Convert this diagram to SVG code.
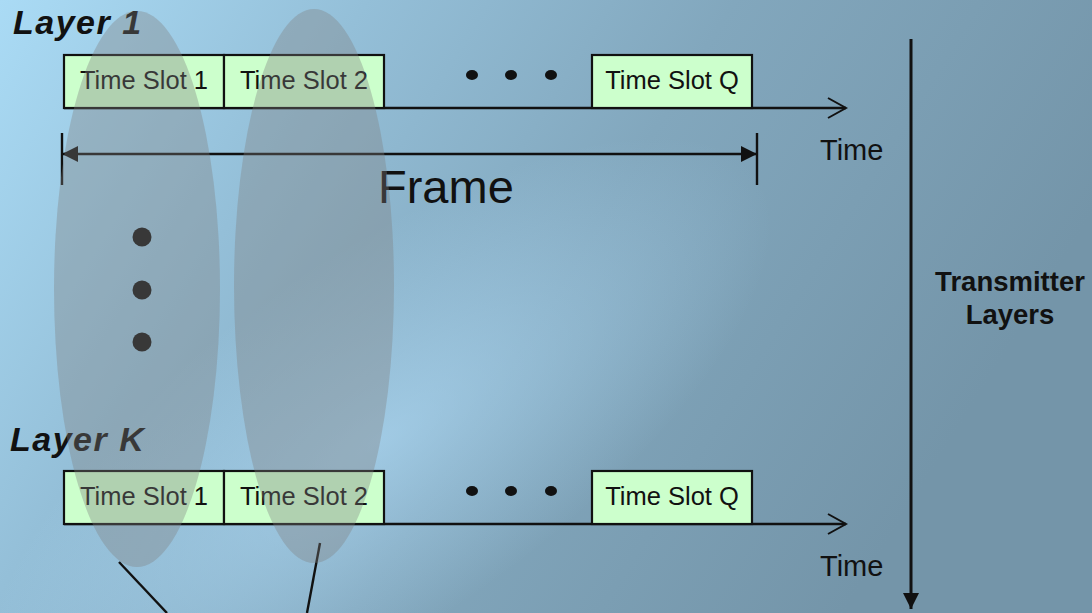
<svg xmlns="http://www.w3.org/2000/svg" width="1092" height="613" viewBox="0 0 1092 613">
<defs>
<linearGradient id="bg" x1="0" y1="0" x2="1" y2="0.35">
<stop offset="0" stop-color="#aadbf5"/>
<stop offset="0.3" stop-color="#94bfd8"/>
<stop offset="0.6" stop-color="#82a7bd"/>
<stop offset="1" stop-color="#7495a9"/>
</linearGradient>
<radialGradient id="glow" cx="380" cy="440" r="330" gradientUnits="userSpaceOnUse" gradientTransform="translate(380 440) rotate(-35) scale(1.4 0.55) translate(-380 -440)">
<stop offset="0" stop-color="#b2defa" stop-opacity="0.6"/>
<stop offset="1" stop-color="#b2defa" stop-opacity="0"/>
</radialGradient>
<marker id="fillArrow" viewBox="0 0 16 16" refX="16" refY="8" markerWidth="16" markerHeight="16" markerUnits="userSpaceOnUse" orient="auto-start-reverse">
<path d="M0,0 L16,8 L0,16 Z" fill="#111"/>
</marker>
<marker id="openArrow" viewBox="0 0 22 24" refX="20" refY="12" markerWidth="22" markerHeight="24" markerUnits="userSpaceOnUse" orient="auto">
<path d="M2,2 L20,12 L2,22" fill="none" stroke="#111" stroke-width="2"/>
</marker>
</defs>
<style>
.slot{fill:#ccffcc;stroke:#111;stroke-width:2.2}
.slotText{font-family:"Liberation Sans",Arial,sans-serif;font-size:25.5px;fill:#111;text-anchor:middle}
.layer{font-family:"Liberation Sans",Arial,sans-serif;font-size:34px;font-weight:bold;font-style:italic;fill:#111;letter-spacing:1.5px}
.lbl{font-family:"Liberation Sans",Arial,sans-serif;font-size:29px;fill:#111}
.ln{stroke:#111;stroke-width:2.4;fill:none}
.dot{fill:#111}
.ell{fill:#808080;fill-opacity:0.36}
</style>
<rect width="1092" height="613" fill="url(#bg)"/>
<rect width="1092" height="613" fill="url(#glow)"/>

<g id="layer1-label"><text class="layer" x="13" y="34">Layer 1</text></g>
<g id="layerK-label"><text class="layer" x="10" y="451">Layer K</text></g>

<g id="connectors">
<line class="ln" x1="64" y1="108" x2="846" y2="108" marker-end="url(#openArrow)"/>
<line class="ln" x1="64" y1="524" x2="846" y2="524" marker-end="url(#openArrow)"/>
<line class="ln" x1="62" y1="154" x2="757" y2="154" marker-start="url(#fillArrow)" marker-end="url(#fillArrow)"/>
<line class="ln" x1="62" y1="133" x2="62" y2="185"/>
<line class="ln" x1="757" y1="133" x2="757" y2="185"/>
<line stroke="#111" stroke-width="3" x1="911" y1="39" x2="911" y2="609" marker-end="url(#fillArrow)"/>
<line class="ln" x1="119" y1="562" x2="167" y2="613"/>
<line class="ln" x1="320" y1="543" x2="307" y2="613"/>
</g>

<g id="l1-slot1"><rect class="slot" x="64" y="55" width="160" height="53"/><text class="slotText" x="144" y="89">Time Slot 1</text></g>
<g id="l1-slot2"><rect class="slot" x="224" y="55" width="160" height="53"/><text class="slotText" x="304" y="89">Time Slot 2</text></g>
<g id="l1-slotQ"><rect class="slot" x="592" y="55" width="160" height="53"/><text class="slotText" x="672" y="89">Time Slot Q</text></g>
<g id="l1-dots"><ellipse class="dot" cx="472" cy="75" rx="6" ry="5"/><ellipse class="dot" cx="511" cy="75" rx="6" ry="5"/><ellipse class="dot" cx="551" cy="75" rx="6" ry="5"/></g>

<g id="lK-slot1"><rect class="slot" x="64" y="471" width="160" height="53"/><text class="slotText" x="144" y="505">Time Slot 1</text></g>
<g id="lK-slot2"><rect class="slot" x="224" y="471" width="160" height="53"/><text class="slotText" x="304" y="505">Time Slot 2</text></g>
<g id="lK-slotQ"><rect class="slot" x="592" y="471" width="160" height="53"/><text class="slotText" x="672" y="505">Time Slot Q</text></g>
<g id="lK-dots"><ellipse class="dot" cx="472" cy="491" rx="6" ry="5"/><ellipse class="dot" cx="511" cy="491" rx="6" ry="5"/><ellipse class="dot" cx="551" cy="491" rx="6" ry="5"/></g>

<g id="vdots"><circle class="dot" cx="142" cy="237" r="9.5"/><circle class="dot" cx="142" cy="290" r="9.5"/><circle class="dot" cx="142" cy="342" r="9.5"/></g>

<g id="time1"><text class="lbl" x="820" y="160">Time</text></g>
<g id="timeK"><text class="lbl" x="820" y="576">Time</text></g>
<g id="frame"><text font-family="Liberation Sans, Arial, sans-serif" font-size="47" fill="#111" x="378" y="203">Frame</text></g>
<g id="tx-layers"><text font-family="Liberation Sans, Arial, sans-serif" font-size="27.5" font-weight="bold" fill="#111" text-anchor="middle"><tspan x="1010" y="291">Transmitter</tspan><tspan x="1010" y="324">Layers</tspan></text></g>

<g id="ellipse1"><ellipse class="ell" cx="137" cy="289" rx="83" ry="278"/></g>
<g id="ellipse2"><ellipse class="ell" cx="314" cy="286" rx="80" ry="277"/></g>
</svg>
